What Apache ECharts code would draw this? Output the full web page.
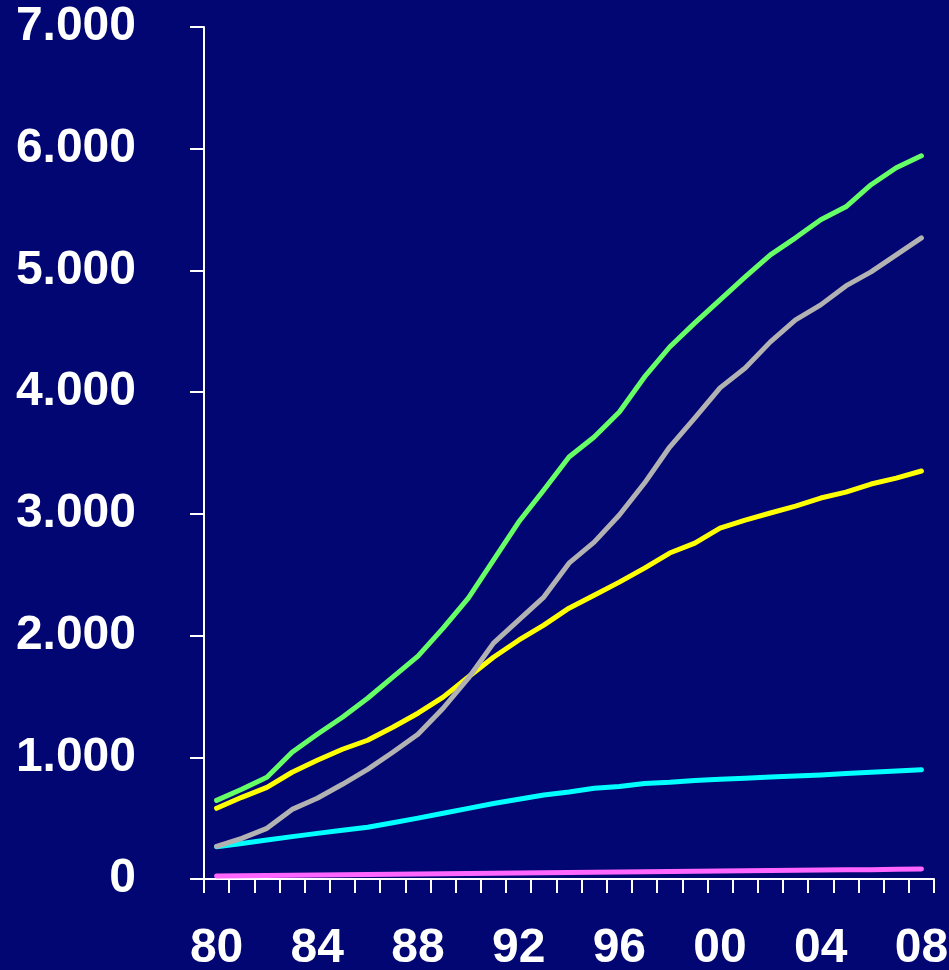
<!DOCTYPE html>
<html>
<head>
<meta charset="utf-8">
<script src="https://cdn.jsdelivr.net/npm/echarts@6/dist/echarts.min.js"></script>
<style>
html,body{margin:0;padding:0;background:#020672;}
#chart{width:949px;height:970px;}
</style>
</head>
<body>
<div id="chart"></div>
<script>
var years = ['80','81','82','83','84','85','86','87','88','89','90','91','92','93','94','95','96','97','98','99','00','01','02','03','04','05','06','07','08'];
var yTickLabels = ['0','1.000','2.000','3.000','4.000','5.000','6.000','7.000'];

var greenSeries = [646,737,836,1041,1189,1329,1485,1658,1831,2061,2308,2620,2933,3196,3467,3632,3837,4125,4371,4569,4758,4947,5128,5268,5416,5523,5704,5844,5942];
var graySeries = [268,334,416,572,663,778,901,1041,1189,1403,1650,1938,2127,2316,2595,2768,2990,3253,3549,3788,4035,4199,4413,4594,4717,4873,4988,5128,5268];
var yellowSeries = [581,671,753,877,975,1066,1140,1247,1362,1494,1660,1822,1962,2086,2225,2332,2439,2554,2678,2760,2883,2949,3007,3064,3130,3179,3245,3294,3352];
var cyanSeries = [265,292,320,348,375,400,425,462,500,540,580,620,655,690,715,745,760,785,795,810,820,828,838,847,855,866,877,888,898];
var magentaSeries = [25,27,29,31,33,35,37,39,41,43,45,47,49,51,53,55,57,59,61,63,65,67,69,71,73,75,77,80,83];

var chart = echarts.init(document.getElementById('chart'), null, {renderer:'canvas'});
var font = '"Liberation Sans", Arial, sans-serif';
function line(data, color){
  return {type:'line', data:data, symbol:'none', smooth:false,
    lineStyle:{color:color, width:5, cap:'round', join:'round'}, animation:false};
}
chart.setOption({
  backgroundColor:'#020672',
  animation:false,
  grid:{left:204, right:15, top:27, bottom:91, containLabel:false, outerBoundsMode:'none'},
  xAxis:{
    type:'category', data:years, boundaryGap:true,
    axisLine:{show:true, lineStyle:{color:'#ffffff', width:2}},
    axisTick:{show:true, interval:0, length:14, lineStyle:{color:'#ffffff', width:2}},
    axisLabel:{interval:3, color:'#ffffff', fontSize:48, fontWeight:'bold', fontFamily:font, margin:46},
    splitLine:{show:false}
  },
  yAxis:{
    type:'value', min:0, max:7000, interval:1000,
    axisLine:{show:true, lineStyle:{color:'#ffffff', width:2}},
    axisTick:{show:true, length:14, lineStyle:{color:'#ffffff', width:2}},
    axisLabel:{color:'#ffffff', fontSize:48, fontWeight:'bold', fontFamily:font, margin:68,
      formatter:function(v){ return yTickLabels[Math.round(v/1000)]; }},
    splitLine:{show:false}
  },
  series:[
    line(magentaSeries,'#ff66ff'),
    line(cyanSeries,'#00ffff'),
    line(yellowSeries,'#ffff00'),
    line(graySeries,'#b2b2b2'),
    line(greenSeries,'#66ff66')
  ]
});
</script>
</body>
</html>
